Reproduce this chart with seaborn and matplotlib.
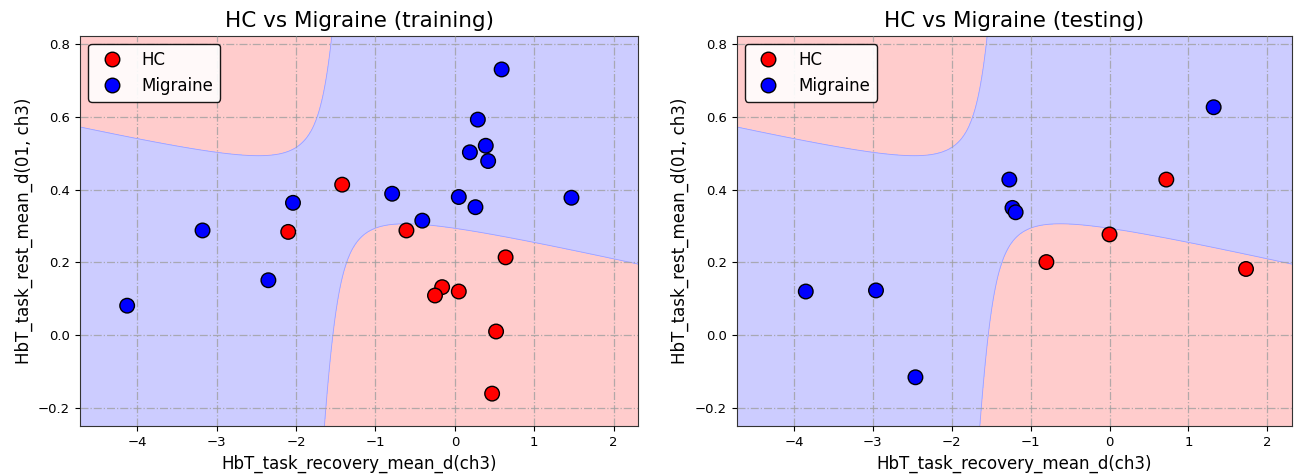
import numpy as np
import pandas as pd
import matplotlib
matplotlib.use("Agg")
import matplotlib.pyplot as plt
import seaborn as sns

# ---- data ----
train_hc_x = [-1.42, -2.10, -0.61, 0.64, -0.16, -0.25, 0.05, 0.52, 0.47]
train_hc_y = [0.414, 0.284, 0.288, 0.214, 0.132, 0.109, 0.120, 0.010, -0.161]
train_mig_x = [0.59, 0.29, 0.19, 0.39, 0.42, -0.79, 0.05, 0.26, 1.47, -0.41, -2.04, -3.18, -2.35, -4.13]
train_mig_y = [0.731, 0.593, 0.503, 0.521, 0.479, 0.389, 0.380, 0.352, 0.378, 0.315, 0.364, 0.288, 0.151, 0.081]

test_hc_x = [0.72, 0.00, -0.80, 1.73]
test_hc_y = [0.428, 0.277, 0.201, 0.182]
test_mig_x = [1.32, -1.27, -1.23, -1.19, -3.85, -2.96, -2.46]
test_mig_y = [0.627, 0.428, 0.350, 0.338, 0.120, 0.123, -0.116]

classes = ["HC", "Migraine"]
titles = ["HC vs Migraine (training)", "HC vs Migraine (testing)"]
xlabel = "HbT_task_recovery_mean_d(ch3)"
ylabel = "HbT_task_rest_mean_d(01, ch3)"

# quadratic decision function f = u*v + k ; HC where f < 0
dec_center = [-1.55, 0.40]
dec_tilt = [0.25, 0.05]
dec_offset = 0.045

xlim = (-4.725, 2.31)
ylim = (-0.25, 0.824)

palette = {"HC": "#ff0000", "Migraine": "#0000ff"}


def make_df(hx, hy, mx, my):
    return pd.DataFrame({
        "x": list(hx) + list(mx),
        "y": list(hy) + list(my),
        "label": ["HC"] * len(hx) + ["Migraine"] * len(mx),
    })


dfs = [make_df(train_hc_x, train_hc_y, train_mig_x, train_mig_y),
       make_df(test_hc_x, test_hc_y, test_mig_x, test_mig_y)]

fig = plt.figure(figsize=(12.98, 4.74), dpi=100)
axes = [fig.add_axes([0.0616, 0.1013, 0.4300, 0.8235]),
        fig.add_axes([0.5676, 0.1013, 0.4276, 0.8235])]

gx, gy = np.meshgrid(np.linspace(xlim[0], xlim[1], 600),
                     np.linspace(ylim[0], ylim[1], 600))
u = (gx - dec_center[0]) - dec_tilt[0] * (gy - dec_center[1])
v = (gy - dec_center[1]) + dec_tilt[1] * (gx - dec_center[0])
f = u * v + dec_offset

for ax, df, title in zip(axes, dfs, titles):
    ax.contourf(gx, gy, f, levels=[-100, 0, 100],
                colors=["#ffcccc", "#ccccff"], zorder=0)
    ax.contour(gx, gy, f, levels=[0], colors=["#8080ff"],
               linewidths=0.6, alpha=0.6, zorder=1)
    sns.scatterplot(data=df, x="x", y="y", hue="label", hue_order=classes,
                    palette=palette, s=110, edgecolor="black", linewidth=1.0,
                    ax=ax, zorder=3)
    ax.set_xlim(*xlim)
    ax.set_ylim(*ylim)
    ax.set_xticks([-4, -3, -2, -1, 0, 1, 2])
    ax.set_yticks([-0.2, 0.0, 0.2, 0.4, 0.6, 0.8])
    ax.grid(True, color="#a0a0a0", linestyle="-.", linewidth=0.9, alpha=0.8)
    ax.set_axisbelow(False)
    for ln in ax.get_xgridlines() + ax.get_ygridlines():
        ln.set_zorder(2)
    ax.set_title(title, fontsize=15.5)
    ax.set_xlabel(xlabel, fontsize=12)
    ax.set_ylabel(ylabel, fontsize=12)
    ax.tick_params(labelsize=9.5)
    for sp in ax.spines.values():
        sp.set_color("#333333")
    handles, labels = ax.get_legend_handles_labels()
    leg = ax.legend(handles, labels, loc="upper left", fontsize=12,
                    frameon=True, fancybox=True, edgecolor="black",
                    framealpha=0.9, markerscale=1.0)
    leg.get_frame().set_linewidth(1.0)

fig.savefig("out.png", dpi=100)
